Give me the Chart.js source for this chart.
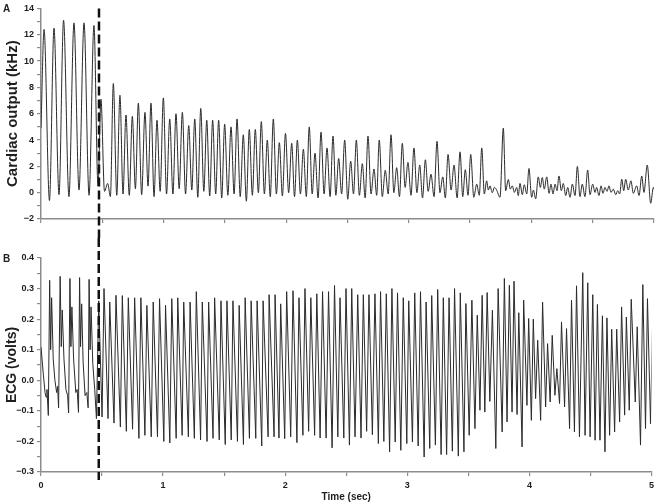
<!DOCTYPE html>
<html>
<head>
<meta charset="utf-8">
<script src="https://cdn.jsdelivr.net/npm/chart.js@4.4.1/dist/chart.umd.min.js"></script>
<style>
  html, body { margin: 0; padding: 0; background: #fff; }
  #wrap { position: relative; width: 658px; height: 504px; }
  canvas { position: absolute; left: 0; }
  #coChart { top: 0; }
  #ecgChart { top: 238px; }
</style>
</head>
<body>
<div id="wrap">
  <canvas id="coChart" width="658" height="238"></canvas>
  <canvas id="ecgChart" width="658" height="266"></canvas>
</div>
<script>
// time of the dashed marker (sec)
const stimTime = 0.473;

// Panel A: cardiac output turning points
const coTime = [
  0.000, 0.025, 0.069, 0.106, 0.147, 0.184, 0.228, 0.269, 0.310, 0.351, 0.392, 0.432, 0.465,
  0.489, 0.518, 0.544, 0.566, 0.590, 0.618, 0.644, 0.669, 0.693, 0.720, 0.745, 0.770, 0.794,
  0.821, 0.848, 0.873, 0.897, 0.922, 0.946, 0.972, 0.998, 1.024, 1.050, 1.076, 1.101, 1.127,
  1.153, 1.179, 1.205, 1.230, 1.254, 1.279, 1.303, 1.328, 1.352, 1.376, 1.400, 1.425, 1.449,
  1.474, 1.498, 1.524, 1.550, 1.575, 1.599, 1.625, 1.650, 1.675, 1.699, 1.724, 1.748, 1.773,
  1.797, 1.822, 1.846, 1.870, 1.895, 1.920, 1.944, 1.969, 1.994, 2.020, 2.045, 2.068, 2.091,
  2.116, 2.140, 2.164, 2.188, 2.212, 2.235, 2.260, 2.284, 2.309, 2.333, 2.358, 2.382, 2.405,
  2.428, 2.452, 2.477, 2.502, 2.526, 2.549, 2.572, 2.597, 2.621, 2.644, 2.667, 2.692, 2.716,
  2.738, 2.759, 2.784, 2.808, 2.832, 2.855, 2.878, 2.901, 2.924, 2.947, 2.970, 2.993, 3.018,
  3.042, 3.066, 3.089, 3.112, 3.135, 3.158, 3.181, 3.206, 3.230, 3.254, 3.277, 3.298, 3.320,
  3.345, 3.369, 3.394, 3.418, 3.440, 3.461, 3.483, 3.505, 3.530, 3.554, 3.575, 3.595, 3.616,
  3.635, 3.649, 3.662, 3.681, 3.698, 3.714, 3.744, 3.771, 3.790, 3.812, 3.828, 3.844, 3.861,
  3.880, 3.893, 3.907, 3.926, 3.942, 3.962, 3.980, 4.002, 4.016, 4.035, 4.056, 4.073, 4.089,
  4.105, 4.125, 4.144, 4.160, 4.176, 4.193, 4.209, 4.225, 4.244, 4.260, 4.280, 4.296, 4.315,
  4.334, 4.356, 4.375, 4.396, 4.415, 4.437, 4.459, 4.478, 4.500, 4.519, 4.532, 4.551, 4.568,
  4.584, 4.600, 4.617, 4.633, 4.649, 4.668, 4.688, 4.704, 4.720, 4.737, 4.753, 4.769, 4.790,
  4.812, 4.831, 4.859, 4.878, 4.900, 4.918, 4.945, 4.973, 4.995, 5.013
];
const coKHz = [
  4.9, 12.4, -0.6, 12.5, -0.15, 13.1, -0.3, 12.9, 0.2, 12.9, -0.2, 12.7, 0.5,
  7.1, 0.1, 0.7, -0.3, 8.3, -0.2, 7.4, -0.1, 5.9, -0.2, 5.8, 0.3, 6.8,
  -0.15, 6.1, 0.5, 6.8, -0.3, 5.5, 0.1, 7.2, -0.1, 5.6, -0.1, 6.0, 0.3,
  6.1, -0.1, 5.1, 0.2, 5.6, -0.35, 6.4, 0.1, 5.5, -0.25, 5.5, -0.1, 5.5,
  -0.4, 5.2, -0.2, 5.0, -0.1, 5.6, -0.3, 4.4, -0.65, 4.8, -0.2, 4.8, 0.0,
  5.4, -0.1, 4.0, -0.3, 5.6, -0.1, 3.8, -0.25, 4.5, 0.0, 3.75, -0.3, 4.0,
  -0.1, 3.3, -0.3, 5.0, -0.1, 3.0, -0.4, 4.6, -0.1, 3.4, -0.3, 4.3, -0.2,
  2.6, -0.1, 4.0, -0.5, 2.4, -0.1, 4.0, -0.2, 2.2, -0.4, 4.3, -0.1, 1.8,
  -0.2, 4.0, -0.3, 1.7, -0.1, 4.4, 0.0, 1.9, -0.3, 3.75, 0.4, 2.3, -0.2,
  3.4, 0.0, 2.1, -0.4, 2.5, 0.1, 1.4, -0.3, 3.9, 0.0, 1.2, -0.4, 2.9,
  0.2, 2.1, -0.4, 3.1, -0.3, 1.75, -0.2, 2.9, -0.35, 0.65, -0.2, 3.4, -0.1,
  0.9, 0.2, 0.52, 0.0, 0.4, 0.25, -0.35, 4.9, 0.15, 1.0, 0.27, 0.52, 0.02,
  0.4, -0.22, 0.7, -0.15, 0.6, -0.1, 1.84, -0.35, 0.2, -0.47, 1.2, 0.4, 1.15,
  0.27, 1.2, -0.05, 0.65, -0.1, 0.65, 0.15, 1.27, 0.15, 0.7, -0.22, 0.4, -0.35,
  0.65, -0.22, 2.0, -0.3, 0.65, -0.3, 1.72, -0.15, 0.65, 0.02, 0.4, -0.22, 0.52,
  -0.05, 0.4, 0.1, 0.52, 0.02, 0.27, -0.15, 0.15, -0.1, 1.02, 0.15, 1.02, 0.2,
  0.9, -0.05, 0.52, -0.22, 1.27, 0.02, 2.1, -0.8, 0.4, -0.22
];

// Panel B: ECG turning points
const ecgTime = [
  0.000, 0.019, 0.033, 0.041, 0.049, 0.060, 0.071, 0.079, 0.087, 0.100, 0.114, 0.128, 0.136,
  0.144, 0.157, 0.166, 0.174, 0.188, 0.204, 0.218, 0.226, 0.237, 0.245, 0.253, 0.267, 0.285,
  0.296, 0.307, 0.316, 0.324, 0.333, 0.345, 0.361, 0.375, 0.386, 0.394, 0.402, 0.410, 0.424,
  0.440, 0.454, 0.473, 0.500,
  0.516, 0.549, 0.563, 0.598, 0.614, 0.650, 0.666, 0.699, 0.715, 0.750, 0.767, 0.802,
  0.818, 0.851, 0.867, 0.903, 0.919, 0.954, 0.971, 1.006, 1.020, 1.055, 1.071, 1.107,
  1.120, 1.156, 1.169, 1.207, 1.221, 1.256, 1.272, 1.307, 1.321, 1.360, 1.373, 1.409,
  1.422, 1.460, 1.474, 1.509, 1.523, 1.558, 1.572, 1.609, 1.623, 1.658, 1.672, 1.707,
  1.721, 1.759, 1.770, 1.808, 1.819, 1.860, 1.868, 1.909, 1.917, 1.949, 1.963, 1.996,
  2.012, 2.045, 2.064, 2.096, 2.113, 2.145, 2.162, 2.192, 2.210, 2.241, 2.259, 2.286,
  2.306, 2.335, 2.355, 2.384, 2.404, 2.431, 2.449, 2.480, 2.498, 2.526, 2.545, 2.572,
  2.594, 2.621, 2.640, 2.667, 2.686, 2.714, 2.735, 2.763, 2.781, 2.808, 2.828, 2.855,
  2.874, 2.901, 2.920, 2.947, 2.967, 2.996, 3.012, 3.042, 3.061, 3.089, 3.108, 3.138,
  3.154, 3.184, 3.200, 3.230, 3.249, 3.277, 3.295, 3.322, 3.342, 3.369, 3.387, 3.418,
  3.434, 3.464, 3.480, 3.507, 3.529, 3.554, 3.573, 3.595, 3.613, 3.635, 3.654, 3.676,
  3.697, 3.725, 3.744, 3.777, 3.795, 3.817, 3.836, 3.858, 3.874, 3.899, 3.913, 3.940,
  3.953, 3.980, 3.994, 4.016, 4.032, 4.051, 4.068, 4.092, 4.108, 4.133, 4.149, 4.170,
  4.187, 4.209, 4.225, 4.247, 4.263, 4.288, 4.304, 4.329, 4.345, 4.369, 4.386, 4.410,
  4.437, 4.456, 4.478, 4.497, 4.519, 4.538, 4.557, 4.578, 4.598, 4.619, 4.635, 4.657,
  4.674, 4.698, 4.715, 4.739, 4.755, 4.780, 4.794, 4.818, 4.834, 4.867, 4.883, 4.910,
  4.929, 4.951, 4.967, 4.992, 5.008
];
const ecgVolts = [
  0.109, 0.02, -0.04, -0.055, -0.03, -0.115, 0.327, 0.10, 0.27, 0.07, 0.0, -0.04, -0.02,
  -0.09, 0.34, 0.11, 0.23, 0.07, -0.03, -0.05, -0.107, 0.333, 0.11, 0.24, 0.07, -0.04,
  -0.03, -0.105, 0.336, 0.11, 0.25, 0.06, -0.05, -0.04, -0.09, 0.33, 0.10, 0.24, 0.055,
  -0.03, -0.125, 0.26, -0.12,
  0.30, -0.125, 0.256, -0.14, 0.278, -0.153, 0.277, -0.167, 0.27, -0.16, 0.27, -0.19,
  0.27, -0.18, 0.245, -0.185, 0.256, -0.185, 0.267, -0.2, 0.245, -0.205, 0.267, -0.19,
  0.27, -0.18, 0.256, -0.185, 0.256, -0.19, 0.29, -0.195, 0.256, -0.2, 0.256, -0.19,
  0.27, -0.195, 0.26, -0.21, 0.26, -0.195, 0.26, -0.2, 0.245, -0.21, 0.27, -0.19,
  0.26, -0.19, 0.26, -0.215, 0.26, -0.185, 0.28, -0.185, 0.28, -0.189, 0.25, -0.191,
  0.29, -0.185, 0.293, -0.204, 0.27, -0.18, 0.30, -0.167, 0.27, -0.18, 0.283, -0.189,
  0.29, -0.189, 0.29, -0.221, 0.31, -0.185, 0.27, -0.189, 0.30, -0.212, 0.30, -0.185,
  0.28, -0.189, 0.28, -0.167, 0.28, -0.178, 0.283, -0.207, 0.29, -0.2, 0.283, -0.234,
  0.30, -0.202, 0.286, -0.229, 0.27, -0.207, 0.26, -0.202, 0.286, -0.215, 0.29, -0.251,
  0.256, -0.223, 0.277, -0.212, 0.297, -0.243, 0.27, -0.243, 0.27, -0.232, 0.30, -0.248,
  0.286, -0.234, 0.251, -0.18, 0.262, -0.158, 0.213, -0.098, 0.278, -0.104, 0.287, -0.069,
  0.229, -0.223, 0.30, -0.169, 0.333, -0.136, 0.311, -0.104, 0.324, -0.112, 0.221, -0.218,
  0.262, -0.082, 0.202, -0.131, 0.200, -0.06, 0.131, -0.131, 0.256, -0.087, 0.120, -0.071,
  0.147, -0.049, 0.038, -0.076, 0.191, -0.087, 0.169, -0.158, 0.262, -0.169, 0.309, -0.185,
  0.352, -0.18, 0.319, -0.185, 0.280, -0.196, 0.248, -0.196, 0.211, -0.234, 0.204, -0.18,
  0.167, -0.169, 0.167, -0.136, 0.240, -0.114, 0.207, -0.098, 0.265, -0.071, 0.175, -0.212,
  0.313, -0.158, 0.267, -0.142, 0.175
];

// axis ranges and labelled ticks
const timeTicks = [0, 1, 2, 3, 4, 5];
const coTicks = [-2, 0, 2, 4, 6, 8, 10, 12, 14];
const ecgTicks = [-0.3, -0.2, -0.1, 0.0, 0.1, 0.2, 0.3, 0.4];

const FONT = 'Arial, "Liberation Sans", Helvetica, sans-serif';
const AXIS = '#8c8c8c';
const INK = '#1e1e1e';

const minus = s => s.replace('-', '\u2212');

// dashed marker + panel letter
const panelDecor = {
  id: 'panelDecor',
  afterDraw(chart, args, o) {
    const { ctx, chartArea } = chart;
    const px = chart.scales.x.getPixelForValue(stimTime);
    ctx.save();
    ctx.strokeStyle = '#111';
    ctx.lineWidth = 2.5;
    ctx.setLineDash([9, 4]);
    ctx.beginPath();
    ctx.moveTo(px, o.fromTop ? chartArea.top : 0);
    ctx.lineTo(px, o.fromTop ? chart.height : chartArea.bottom + 8);
    ctx.stroke();
    ctx.setLineDash([]);
    ctx.fillStyle = INK;
    ctx.font = 'bold 10px ' + FONT;
    ctx.textBaseline = 'middle';
    ctx.fillText(o.letter, 3, chartArea.top + 1);
    ctx.restore();
  }
};

function makeChart(id, times, values, cfg) {
  const pts = times.map((t, i) => ({ x: t, y: values[i] }));
  return new Chart(document.getElementById(id), {
    type: 'line',
    data: {
      datasets: [{
        data: pts,
        borderColor: '#2b2b2b',
        borderWidth: 1,
        pointRadius: 0,
        cubicInterpolationMode: cfg.smooth ? 'monotone' : 'default',
        tension: 0
      }]
    },
    options: {
      responsive: false,
      animation: false,
      layout: { padding: { top: cfg.padTop, right: 4, left: 0, bottom: 0 } },
      plugins: {
        legend: { display: false },
        tooltip: { enabled: false },
        panelDecor: { letter: cfg.letter, fromTop: cfg.letter === 'A' }
      },
      scales: {
        x: {
          type: 'linear',
          min: 0, max: 5,
          ticks: {
            stepSize: 0.5,
            autoSkip: false,
            maxRotation: 0,
            padding: 4,
            color: INK,
            font: { family: FONT, size: 9, weight: 'bold' },
            callback: v => (cfg.timeLabels && timeTicks.includes(v)) ? String(v) : ''
          },
          grid: { drawOnChartArea: false, color: AXIS, tickLength: 4, lineWidth: 1.2 },
          border: { color: AXIS, width: 1.5 },
          title: {
            display: cfg.timeLabels,
            text: 'Time (sec)',
            color: INK,
            font: { family: FONT, size: 10, weight: 'bold' },
            padding: { top: 0, bottom: 1 }
          },
          afterFit: s => { s.height = cfg.xHeight; }
        },
        y: {
          min: cfg.yMin, max: cfg.yMax,
          ticks: {
            stepSize: cfg.yStep,
            autoSkip: false,
            padding: 3,
            color: INK,
            font: { family: FONT, size: 9, weight: 'bold' },
            callback: cfg.yFormat
          },
          grid: { drawOnChartArea: false, color: AXIS, tickLength: 4, lineWidth: 1.2 },
          border: { color: AXIS, width: 1.5 },
          title: {
            display: true,
            text: cfg.yTitle,
            color: INK,
            font: { family: FONT, size: cfg.yTitleSize, weight: 'bold' },
            padding: { top: 4, bottom: 0 }
          },
          afterFit: s => { s.width = 41; }
        }
      }
    },
    plugins: [panelDecor]
  });
}

makeChart('coChart', coTime, coKHz, {
  letter: 'A', padTop: 5, xHeight: 19, smooth: true, timeLabels: false,
  yMin: -2, yMax: 14, yStep: 1, yTitle: 'Cardiac output (kHz)', yTitleSize: 15,
  yFormat: v => coTicks.includes(v) ? minus(String(v)) : ''
});

makeChart('ecgChart', ecgTime, ecgVolts, {
  letter: 'B', padTop: 20, xHeight: 32, smooth: false, timeLabels: true,
  yMin: -0.3, yMax: 0.4, yStep: 0.05, yTitle: 'ECG (volts)', yTitleSize: 14,
  yFormat: v => {
    const r = Math.round(v * 100);
    return ecgTicks.some(t => Math.round(t * 100) === r) ? minus((r / 100).toFixed(1)) : '';
  }
});
</script>
</body>
</html>
